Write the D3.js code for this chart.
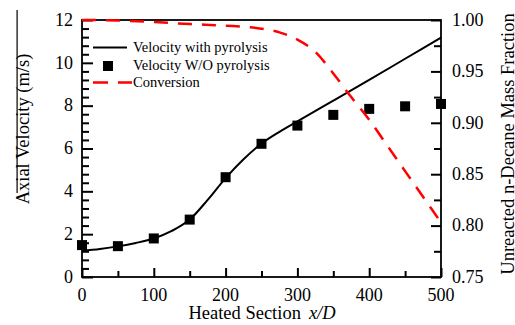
<!DOCTYPE html>
<html>
<head>
<meta charset="utf-8">
<script src="https://cdn.jsdelivr.net/npm/d3@7"></script>
<style>
  body { margin: 0; background: #fff; }
  svg { display: block; }
  svg text { font-family: "Liberation Serif", "Times New Roman", Times, serif; fill: #000; }
</style>
</head>
<body>
<div id="chart"></div>
<script>
// velocity with pyrolysis (solid line), x/D vs m/s
const lineX = [0, 25, 50, 75, 100, 125, 150, 175, 200, 225, 250, 275, 300, 350, 400, 450, 500];
const lineV = [1.22, 1.31, 1.43, 1.59, 1.8, 2.15, 2.68, 3.6, 4.62, 5.5, 6.23, 6.78, 7.27, 8.23, 9.2, 10.19, 11.18];

// velocity without pyrolysis (squares)
const sqX = [0, 50, 100, 150, 200, 250, 300, 350, 400, 450, 500];
const sqV = [1.49, 1.44, 1.8, 2.68, 4.66, 6.22, 7.07, 7.57, 7.85, 7.97, 8.08];

// unreacted n-decane mass fraction (red dashed)
const convX = [0, 50, 100, 150, 200, 250, 275, 300, 325, 350, 375, 400, 425, 450, 475, 500];
const convY = [1.0, 0.9995, 0.998, 0.996, 0.9945, 0.9915, 0.988, 0.981, 0.969, 0.948, 0.925, 0.903, 0.878, 0.853, 0.828, 0.803];

const xTicks = [0, 100, 200, 300, 400, 500];
const xMinor = [50, 150, 250, 350, 450];
const yTicks = [0, 2, 4, 6, 8, 10, 12];
const yMinor = [0.4, 0.8, 1.2, 1.6, 2.4, 2.8, 3.2, 3.6, 4.4, 4.8, 5.2, 5.6, 6.4, 6.8, 7.2, 7.6, 8.4, 8.8, 9.2, 9.6, 10.4, 10.8, 11.2, 11.6];
const y2Ticks = [0.75, 0.80, 0.85, 0.90, 0.95, 1.00];
const y2Minor = [0.775, 0.825, 0.875, 0.925, 0.975];

const legendLabels = ["Velocity with pyrolysis", "Velocity W/O pyrolysis", "Conversion"];

const width = 515, height = 325;
const margin = {top: 20, right: 74, bottom: 48, left: 82};

const svg = d3.select("#chart").append("svg")
    .attr("width", width)
    .attr("height", height);

const x = d3.scaleLinear().domain([0, 500]).range([margin.left, width - margin.right]);
const y = d3.scaleLinear().domain([0, 12]).range([height - margin.bottom, margin.top]);
const y2 = d3.scaleLinear().domain([0.75, 1.0]).range([height - margin.bottom, margin.top]);

const left = margin.left, right = width - margin.right, bottom = height - margin.bottom;

// stray vertical rule at far left of the original image
svg.append("rect")
    .attr("x", 16.5).attr("y", 10)
    .attr("width", 1.2).attr("height", 183)
    .attr("fill", "#000");

// axes with inward ticks
svg.append("g")
    .attr("transform", `translate(${left},0)`)
    .call(d3.axisRight(y).tickValues(yMinor).tickSize(7).tickFormat(() => ""))
    .call(g => g.select(".domain").remove());
svg.append("g")
    .attr("transform", `translate(${left},0)`)
    .call(d3.axisRight(y).tickValues(yTicks).tickSize(11).tickFormat(() => ""))
    .call(g => g.select(".domain").remove());
svg.append("g")
    .attr("transform", `translate(${right},0)`)
    .call(d3.axisLeft(y2).tickValues(y2Minor).tickSize(7).tickFormat(() => ""))
    .call(g => g.select(".domain").remove());
svg.append("g")
    .attr("transform", `translate(${right},0)`)
    .call(d3.axisLeft(y2).tickValues(y2Ticks).tickSize(10).tickFormat(() => ""))
    .call(g => g.select(".domain").remove());
svg.append("g")
    .attr("transform", `translate(0,${bottom})`)
    .call(d3.axisTop(x).tickValues(xMinor).tickSize(6).tickFormat(() => ""))
    .call(g => g.select(".domain").remove());
svg.append("g")
    .attr("transform", `translate(0,${bottom})`)
    .call(d3.axisTop(x).tickValues(xTicks).tickSize(9).tickFormat(() => ""))
    .call(g => g.select(".domain").remove());
svg.selectAll(".tick line").attr("stroke", "#000").attr("stroke-width", 2);

// tick labels
const lab = svg.append("g").style("font-size", "18px");
lab.append("g").selectAll("text")
    .data(yTicks)
    .enter()
    .append("text")
    .attr("x", left - 9)
    .attr("y", d => y(d))
    .attr("dy", "0.32em")
    .attr("text-anchor", "end")
    .text(d => d);
lab.append("g").selectAll("text")
    .data(y2Ticks)
    .enter()
    .append("text")
    .attr("x", right + 11)
    .attr("y", d => y2(d))
    .attr("dy", "0.32em")
    .text(d3.format(".2f"));
lab.append("g").selectAll("text")
    .data(xTicks)
    .enter()
    .append("text")
    .attr("x", d => x(d))
    .attr("y", bottom + 11)
    .attr("dy", "0.71em")
    .attr("text-anchor", "middle")
    .text(d => d);

// frame
svg.append("rect")
    .attr("x", left)
    .attr("y", margin.top)
    .attr("width", right - left)
    .attr("height", bottom - margin.top)
    .attr("fill", "none")
    .attr("stroke", "#000")
    .attr("stroke-width", 1.8);

// solid line
const line = d3.line()
    .x((d, i) => x(lineX[i]))
    .y(d => y(d))
    .curve(d3.curveMonotoneX);
svg.append("path")
    .attr("d", line(lineV))
    .attr("fill", "none")
    .attr("stroke", "#000")
    .attr("stroke-width", 2);

// squares
const sq = 10;
svg.append("g").selectAll("rect")
    .data(sqV)
    .enter()
    .append("rect")
    .attr("x", (d, i) => x(sqX[i]) - sq / 2)
    .attr("y", d => y(d) - sq / 2)
    .attr("width", sq)
    .attr("height", sq)
    .attr("fill", "#000");

// conversion
const convLine = d3.line()
    .x((d, i) => x(convX[i]))
    .y(d => y2(d))
    .curve(d3.curveMonotoneX);
svg.append("path")
    .attr("d", convLine(convY))
    .attr("fill", "none")
    .attr("stroke", "#ff0000")
    .attr("stroke-width", 2.5)
    .attr("stroke-dasharray", "14,10");

// legend
const lg = svg.append("g").style("font-size", "14.5px");
lg.append("line")
    .attr("x1", 93).attr("x2", 127).attr("y1", 47.5).attr("y2", 47.5)
    .attr("stroke", "#000").attr("stroke-width", 2);
lg.append("rect")
    .attr("x", 103).attr("y", 61).attr("width", sq).attr("height", sq)
    .attr("fill", "#000");
lg.append("line")
    .attr("x1", 93).attr("x2", 132).attr("y1", 82.5).attr("y2", 82.5)
    .attr("stroke", "#ff0000").attr("stroke-width", 2.5)
    .attr("stroke-dasharray", "15,10");
lg.selectAll("text")
    .data(legendLabels)
    .enter()
    .append("text")
    .attr("x", 133)
    .attr("y", (d, i) => [52, 70, 87][i])
    .text(d => d);

// axis titles
svg.append("text")
    .attr("transform", "translate(28.5,129) rotate(-90)")
    .attr("text-anchor", "middle")
    .style("font-size", "18.5px")
    .text("Axial Velocity (m/s)");

svg.append("text")
    .attr("transform", "translate(513.5,144) rotate(-90)")
    .attr("text-anchor", "middle")
    .style("font-size", "18.5px")
    .text("Unreacted n-Decane Mass Fraction");

const xt = svg.append("text")
    .attr("x", 262)
    .attr("y", 319)
    .attr("text-anchor", "middle")
    .style("font-size", "18.5px");
xt.append("tspan").text("Heated Section");
xt.append("tspan").attr("dx", 8).style("font-style", "italic").text("x/D");
</script>
</body>
</html>
